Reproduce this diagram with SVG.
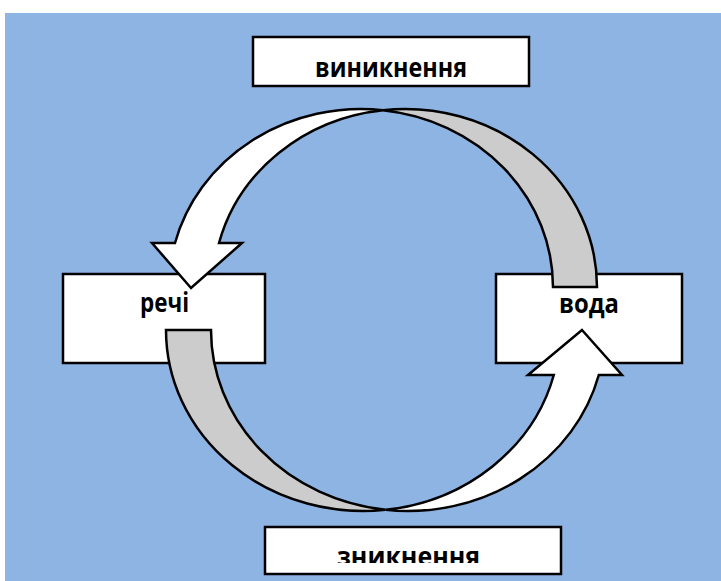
<svg xmlns="http://www.w3.org/2000/svg" width="721" height="581" viewBox="0 0 721 581">
  <style>
    .box { fill: #FFFFFF; stroke: #000000; stroke-width: 2.5; }
    .lbl { font-family: "Open Sans", "Noto Sans", "DejaVu Sans", sans-serif; font-weight: bold; font-size: 26px; fill: #000000; }
    .front { fill: #FFFFFF; stroke: #000000; stroke-width: 2.5; stroke-linejoin: miter; }
    .back { fill: #CCCCCC; stroke: #000000; stroke-width: 2.5; stroke-linejoin: miter; }
  </style>
  <defs>
    <clipPath id="clipBottom">
      <rect x="267" y="529" width="292" height="34"/>
    </clipPath>
  </defs>

  <rect x="5" y="13" width="716" height="568" fill="#8EB4E3"/>

  <g id="node-vynyknennia">
    <rect class="box" x="253" y="37" width="276" height="49"/>
    <text class="lbl" x="315" y="77" textLength="152" lengthAdjust="spacingAndGlyphs">виникнення</text>
  </g>

  <g id="node-rechi">
    <rect class="box" x="63" y="274" width="202" height="89"/>
    <text class="lbl" x="140" y="312" textLength="49" lengthAdjust="spacingAndGlyphs">речі</text>
  </g>

  <g id="node-voda">
    <rect class="box" x="496" y="274" width="186" height="89"/>
    <text class="lbl" x="559" y="313" textLength="60" lengthAdjust="spacingAndGlyphs">вода</text>
  </g>

  <g id="node-znyknennia">
    <rect class="box" x="265" y="527" width="296" height="47"/>
    <text class="lbl" x="337" y="566" textLength="143" lengthAdjust="spacingAndGlyphs" clip-path="url(#clipBottom)">зникнення</text>
  </g>

  <g id="connectors">
    <!-- top curved arrow: вода -> речі -->
    <path class="back" d="M 383,110.2 A 192 178 0 0 1 597,287 L 553,287 A 192 178 0 0 0 383,110.2 Z"/>
    <path class="front" d="M 191,288 L 152,243 L 175,243 A 192 178 0 0 1 383,110.2 A 192 178 0 0 0 219,243 L 242,243 Z"/>
    <!-- bottom curved arrow: речі -> вода -->
    <path class="back" d="M 385.5,509.8 A 197 181 0 0 1 166,330 L 211,330 A 197 181 0 0 0 385.5,509.8 Z"/>
    <path class="front" d="M 582,330 L 622,375 L 598.8,375 A 197 181 0 0 1 385.5,509.8 A 197 181 0 0 0 553.8,375 L 528,375 Z"/>
  </g>
</svg>
